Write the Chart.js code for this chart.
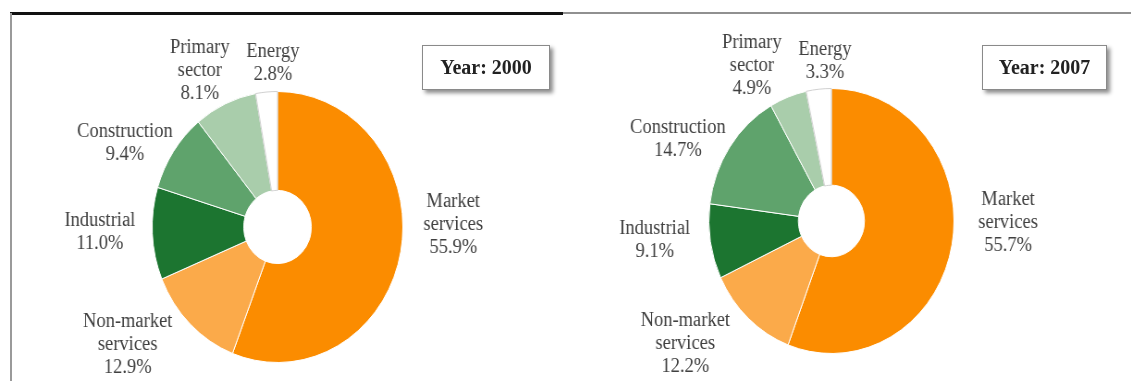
<!DOCTYPE html>
<html>
<head>
<meta charset="utf-8">
<script src="https://cdn.jsdelivr.net/npm/chart.js@4"></script>
<style>
  html, body { margin: 0; padding: 0; background: #fff; }
  body { width: 1131px; height: 381px; position: relative; overflow: hidden;
         font-family: "Liberation Serif", "Times New Roman", serif; }
  .rule-top-left  { position: absolute; left: 10px; top: 12px; width: 553px; height: 3px; background: #111; }
  .rule-left      { position: absolute; left: 10px; top: 13px; width: 2px; height: 368px; background: #9a9a9a; }
  .rule-top-right { position: absolute; left: 563px; top: 12px; width: 568px; height: 2px; background: #909090; }
  .panel { position: absolute; top: 0; height: 381px; transform-origin: 0 0; transform: scaleX(0.925); }
  .panel canvas { display: block; }
  .year { position: absolute; top: 45px; height: 45px; box-sizing: border-box;
          border: 1px solid #8a8a8a; background: #fff;
          box-shadow: 3px 3px 4px rgba(0,0,0,0.45);
          font: bold 20px "Liberation Serif", "Times New Roman", serif; color: #222;
          display: flex; align-items: center; justify-content: center; }
</style>
</head>
<body>
<div class="rule-top-left"></div>
<div class="rule-left"></div>
<div class="rule-top-right"></div>

<div class="panel" id="p2000" style="left:0;width:613px;"><canvas id="c2000"></canvas></div>
<div class="panel" id="p2007" style="left:565px;width:612px;"><canvas id="c2007"></canvas></div>

<div class="year" id="y2000" style="left:422px;width:128px;"></div>
<div class="year" id="y2007" style="left:982px;width:125px;"></div>

<script>
// Sectors, clockwise from 12 o'clock
const sectors = ['Market services', 'Non-market services', 'Industrial', 'Construction', 'Primary sector', 'Energy'];
// How each sector name is broken over lines in its label
const sectorLines = [['Market', 'services'], ['Non-market', 'services'], ['Industrial'], ['Construction'], ['Primary', 'sector'], ['Energy']];

const years = ['2000', '2007'];
// Share of each sector (%)
const share2000 = [55.9, 12.9, 11.0, 9.4, 8.1, 2.8];
const share2007 = [55.7, 12.2, 9.1, 14.7, 4.9, 3.3];

const sliceColors  = ['#FB8C00', '#FBAA4A', '#1C7530', '#5FA36C', '#A9CDAB', '#FFFFFF'];
const sliceBorders = ['#FFFFFF', '#FFFFFF', '#FFFFFF', '#FFFFFF', '#FFFFFF', '#D0D0D0'];

// Label block centres relative to the ring centre (dx, dy), per sector
const labelOffsets2000 = [[190, -2], [-162, 118], [-192, 5], [-165, -84], [-84, -156], [-5, -164]];
const labelOffsets2007 = [[191, 2], [-158, 123], [-191, 19], [-166, -82], [-86, -155], [-7, -160]];

const LINE_H = 23;
const LABEL_FONT = '20px "Liberation Serif", "Times New Roman", serif';

const sectorLabels = {
  id: 'sectorLabels',
  afterDatasetsDraw(chart, args, opts) {
    const ctx = chart.ctx;
    const meta = chart.getDatasetMeta(0);
    const arc0 = meta.data[0];
    const cx = arc0.x, cy = arc0.y;
    const values = chart.data.datasets[0].data;
    ctx.save();
    ctx.font = LABEL_FONT;
    ctx.fillStyle = '#404040';
    ctx.textAlign = 'center';
    ctx.textBaseline = 'middle';
    values.forEach((v, i) => {
      const lines = sectorLines[i].concat([v.toFixed(1) + '%']);
      const [dx, dy] = opts.offsets[i];
      const top = cy + dy - (lines.length - 1) * LINE_H / 2;
      lines.forEach((t, k) => ctx.fillText(t, cx + dx, top + k * LINE_H));
    });
    ctx.restore();
  }
};

function makeRing(canvasId, values, offsets, padding) {
  return new Chart(document.getElementById(canvasId), {
    type: 'doughnut',
    data: {
      labels: sectors,
      datasets: [{
        data: values,
        backgroundColor: sliceColors,
        borderColor: sliceBorders,
        borderWidth: 1
      }]
    },
    options: {
      responsive: true,
      maintainAspectRatio: false,
      animation: false,
      cutout: '27%',
      rotation: 0,
      layout: { padding: padding },
      plugins: {
        legend: { display: false },
        tooltip: { enabled: false },
        sectorLabels: { offsets: offsets }
      }
    },
    plugins: [sectorLabels]
  });
}

makeRing('c2000', share2000, labelOffsets2000, { left: 164, right: 177, top: 91, bottom: 18 });
makeRing('c2007', share2007, labelOffsets2007, { left: 155, right: 191, top: 88, bottom: 27 });
document.getElementById('y2000').textContent = 'Year: ' + years[0];
document.getElementById('y2007').textContent = 'Year: ' + years[1];
</script>
</body>
</html>
